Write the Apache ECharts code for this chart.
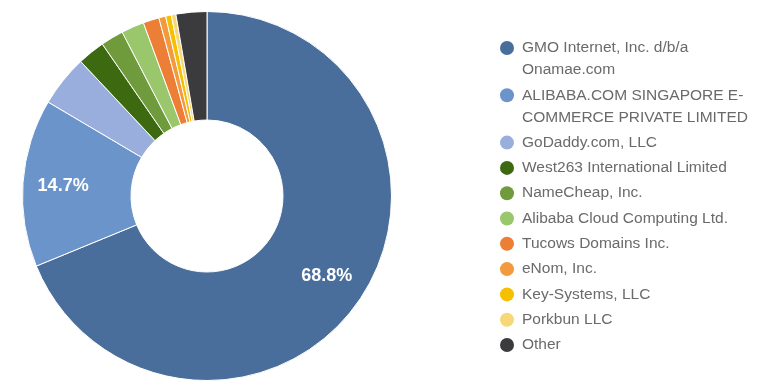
<!DOCTYPE html>
<html>
<head>
<meta charset="utf-8">
<script src="https://cdn.jsdelivr.net/npm/echarts@6/dist/echarts.min.js"></script>
<style>
  html, body { margin: 0; padding: 0; background: #fff; }
  #chart { width: 759px; height: 381px; }
</style>
</head>
<body>
<div id="chart"></div>
<script>
// ---- Data ----
const categories = [
  'GMO Internet, Inc. d/b/a Onamae.com',
  'ALIBABA.COM SINGAPORE E-COMMERCE PRIVATE LIMITED',
  'GoDaddy.com, LLC',
  'West263 International Limited',
  'NameCheap, Inc.',
  'Alibaba Cloud Computing Ltd.',
  'Tucows Domains Inc.',
  'eNom, Inc.',
  'Key-Systems, LLC',
  'Porkbun LLC',
  'Other'
];
const legendLabels = [
  'GMO Internet, Inc. d/b/a\nOnamae.com',
  'ALIBABA.COM SINGAPORE E-\nCOMMERCE PRIVATE LIMITED',
  'GoDaddy.com, LLC',
  'West263 International Limited',
  'NameCheap, Inc.',
  'Alibaba Cloud Computing Ltd.',
  'Tucows Domains Inc.',
  'eNom, Inc.',
  'Key-Systems, LLC',
  'Porkbun LLC',
  'Other'
];
const shares = [68.8, 14.7, 4.5, 2.4, 2.0, 2.0, 1.4, 0.6, 0.5, 0.4, 2.7];
const colors = [
  '#4a6e9b', '#6b94cb', '#9aaede', '#3d6a11', '#6f9b3c', '#9ac66c',
  '#ec7f35', '#f39a3e', '#f6c000', '#f7d878', '#3b3b3d'
];

// ---- Chart ----
const FONT = 'Arial, "Liberation Sans", sans-serif';
const pieData = categories.map((n, i) => ({ name: n, value: shares[i], itemStyle: { color: colors[i] } }));
const overlayData = categories.map((n, i) => ({ name: n, value: shares[i] }));

const chart = echarts.init(document.getElementById('chart'), null, { renderer: 'canvas' });
chart.setOption({
  animation: false,
  backgroundColor: '#fff',
  color: colors,
  legend: {
    orient: 'vertical',
    left: 495,
    top: 37,
    padding: 0,
    itemGap: 3.3,
    itemWidth: 0,
    itemHeight: 14,
    icon: 'none',
    selectedMode: false,
    data: categories.map((n, i) => ({
      name: n,
      icon: 'none',
      textStyle: {
        rich: {
          ic: { width: 14, height: 14, borderRadius: 7, backgroundColor: colors[i] }
        }
      }
    })),
    formatter: function (name) {
      const idx = categories.indexOf(name);
      const lines = legendLabels[idx].split('\n');
      return lines.map((l, k) => (k === 0 ? '{ic|}{g|}' : '{sp|}') + '{t|' + l + '}').join('\n');
    },
    textStyle: {
      fontFamily: FONT,
      fontSize: 15.5,
      color: '#6a6a6a',
      lineHeight: 22,
      rich: {
        t: { fontFamily: FONT, fontSize: 15.5, color: '#6a6a6a', lineHeight: 22 },
        g: { width: 8, height: 14 },
        sp: { width: 22, height: 14 }
      }
    }
  },
  series: [
    {
      type: 'pie',
      center: [207, 196],
      radius: [76, 184.5],
      startAngle: 90,
      clockwise: true,
      avoidLabelOverlap: false,
      label: { show: false },
      labelLine: { show: false },
      emphasis: { disabled: true },
      itemStyle: { borderColor: '#fff', borderWidth: 1 },
      data: pieData
    },
    {
      type: 'pie',
      center: [207, 196],
      radius: [98, 184.5],
      startAngle: 90,
      clockwise: true,
      silent: true,
      avoidLabelOverlap: false,
      itemStyle: { color: 'rgba(0,0,0,0)' },
      labelLine: { show: false },
      emphasis: { disabled: true },
      label: {
        show: true,
        position: 'inside',
        color: '#fff',
        fontFamily: FONT,
        fontWeight: 'bold',
        fontSize: 18,
        formatter: function (p) { return p.percent >= 10 ? p.value.toFixed(1) + '%' : ''; }
      },
      data: overlayData
    }
  ]
});
</script>
</body>
</html>
